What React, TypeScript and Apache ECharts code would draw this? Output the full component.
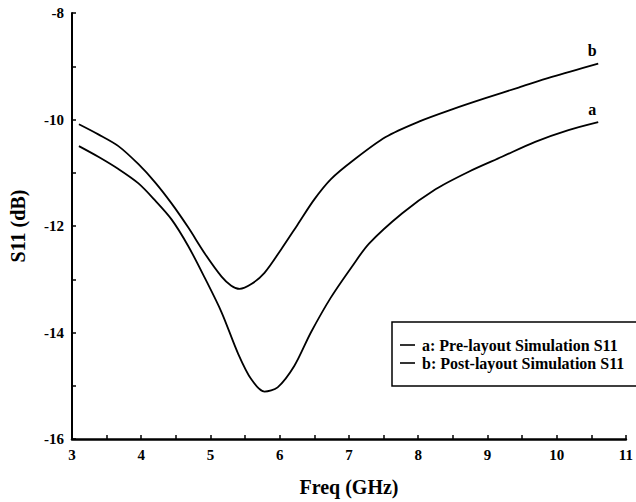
import React, { useEffect, useRef } from "react";
import * as echarts from "echarts";

// Return-loss curves, S11 in dB against frequency in GHz
const freqA = [3.1, 3.38, 3.67, 3.96, 4.2, 4.44, 4.68, 4.92, 5.16, 5.4, 5.59, 5.78, 5.97, 6.21, 6.45, 6.74, 7.05, 7.29, 7.77, 8.25, 8.73, 9.21, 9.69, 10.17, 10.6];
const s11A = [-10.5, -10.7, -10.93, -11.2, -11.52, -11.88, -12.38, -12.98, -13.62, -14.4, -14.88, -15.11, -15.03, -14.63, -14.0, -13.34, -12.75, -12.33, -11.76, -11.31, -10.98, -10.7, -10.42, -10.2, -10.05];

const freqB = [3.1, 3.38, 3.67, 3.96, 4.2, 4.44, 4.68, 4.92, 5.16, 5.3, 5.42, 5.59, 5.78, 6.02, 6.26, 6.5, 6.74, 7.05, 7.53, 8.01, 8.49, 8.97, 9.45, 9.93, 10.6];
const s11B = [-10.09, -10.28, -10.5, -10.84, -11.18, -11.58, -12.03, -12.52, -12.95, -13.12, -13.18, -13.09, -12.88, -12.44, -11.97, -11.5, -11.12, -10.78, -10.33, -10.04, -9.81, -9.6, -9.4, -9.2, -8.95];

const seriesNames = ["a: Pre-layout Simulation S11", "b: Post-layout Simulation S11"];
const curveTags = ["a", "b"];

const xRange = { min: 3, max: 11, interval: 1 };
const yRange = { min: -16, max: -8, interval: 2 };

const FONT = "'Liberation Serif', 'Times New Roman', serif";

function buildData(freqs: number[], vals: number[], tag: string) {
  return freqs.map((f, i) => {
    if (i === freqs.length - 1) {
      return {
        value: [f, vals[i]],
        label: {
          show: true,
          formatter: tag,
          position: "top",
          distance: 5,
          offset: [-6, 0],
          color: "#000",
          fontSize: 16,
          fontWeight: "bold",
          fontFamily: FONT,
        },
      };
    }
    return [f, vals[i]];
  });
}

function makeSeries(name: string, data: any[]) {
  return {
    name,
    type: "line",
    smooth: 0.3,
    showSymbol: true,
    symbol: "circle",
    symbolSize: 0,
    lineStyle: { color: "#000", width: 1.8 },
    itemStyle: { color: "#000" },
    emphasis: { disabled: true },
    data,
  };
}

export default function App() {
  const ref = useRef<HTMLDivElement>(null);

  useEffect(() => {
    if (!ref.current) return;
    const chart = echarts.init(ref.current, null, { renderer: "svg" });
    const axisText = {
      color: "#000",
      fontSize: 15,
      fontWeight: "bold",
      fontFamily: FONT,
    };
    const nameText = {
      color: "#000",
      fontSize: 20,
      fontWeight: "bold",
      fontFamily: FONT,
    };
    chart.setOption({
      animation: false,
      backgroundColor: "#fff",
      grid: { left: 72, right: 8, top: 13, bottom: 61, containLabel: false },
      legend: {
        left: 392,
        top: 322,
        orient: "vertical",
        selectedMode: false,
        padding: [15, 14, 15, 8],
        itemGap: 2,
        itemWidth: 15,
        itemHeight: 1.6,
        icon: "rect",
        borderColor: "#000",
        borderWidth: 1.5,
        textStyle: { color: "#000", fontSize: 16, fontWeight: "bold", fontFamily: FONT, padding: [0, 0, 0, 2] },
        data: seriesNames,
      },
      xAxis: {
        type: "value",
        min: xRange.min,
        max: xRange.max,
        interval: xRange.interval,
        name: "Freq (GHz)",
        nameLocation: "middle",
        nameGap: 38,
        nameTextStyle: nameText,
        axisLine: { onZero: false, lineStyle: { color: "#000", width: 2.5 } },
        axisTick: { inside: true, length: 4, lineStyle: { color: "#000", width: 1.5 } },
        minorTick: { show: true, splitNumber: 2, length: 4, lineStyle: { color: "#000", width: 1.5 } },
        splitLine: { show: false },
        minorSplitLine: { show: false },
        axisLabel: { ...axisText, margin: 8 },
      },
      yAxis: {
        type: "value",
        min: yRange.min,
        max: yRange.max,
        interval: yRange.interval,
        name: "S11 (dB)",
        nameLocation: "middle",
        nameRotate: 90,
        nameGap: 44,
        nameTextStyle: nameText,
        axisLine: { onZero: false, lineStyle: { color: "#000", width: 2 } },
        axisTick: { inside: true, length: 4, lineStyle: { color: "#000", width: 1.5 } },
        minorTick: { show: true, splitNumber: 2, length: 4, lineStyle: { color: "#000", width: 1.5 } },
        splitLine: { show: false },
        minorSplitLine: { show: false },
        axisLabel: { ...axisText, margin: 8 },
      },
      series: [
        makeSeries(seriesNames[0], buildData(freqA, s11A, curveTags[0])),
        makeSeries(seriesNames[1], buildData(freqB, s11B, curveTags[1])),
      ],
    });
    return () => chart.dispose();
  }, []);

  return (
    <div
      ref={ref}
      style={{ position: "fixed", left: 0, top: 0, width: 636, height: 502, background: "#fff" }}
    />
  );
}
